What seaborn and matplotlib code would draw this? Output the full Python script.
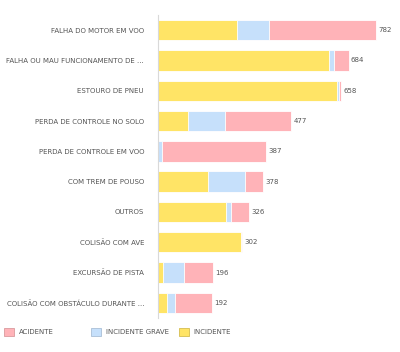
import matplotlib
matplotlib.use("Agg")
import matplotlib.pyplot as plt
from matplotlib.patches import Patch
import seaborn as sns
import pandas as pd

categories = [
    "FALHA DO MOTOR EM VOO",
    "FALHA OU MAU FUNCIONAMENTO DE ...",
    "ESTOURO DE PNEU",
    "PERDA DE CONTROLE NO SOLO",
    "PERDA DE CONTROLE EM VOO",
    "COM TREM DE POUSO",
    "OUTROS",
    "COLISÃO COM AVE",
    "EXCURSÃO DE PISTA",
    "COLISÃO COM OBSTÁCULO DURANTE ...",
]
incidente = [282, 612, 641, 107, 0, 180, 245, 296, 17, 33]
incidente_grave = [115, 21, 8, 132, 13, 132, 17, 1, 75, 28]
acidente = [385, 51, 9, 238, 374, 66, 64, 5, 104, 131]
totals = [782, 684, 658, 477, 387, 378, 326, 302, 196, 192]
series_names = ["ACIDENTE", "INCIDENTE GRAVE", "INCIDENTE"]

col_acidente = "#ffb3b8"
col_grave = "#c6e0fb"
col_incidente = "#ffe466"
text_col = "#555555"

df = pd.DataFrame({
    "cat": categories,
    "inc": incidente,
    "inc_grave": [a + b for a, b in zip(incidente, incidente_grave)],
    "total": [a + b + c for a, b, c in zip(incidente, incidente_grave, acidente)],
})

sns.set_style("white")
plt.rcParams["font.family"] = ["DejaVu Sans"]

fig = plt.figure(figsize=(4.0, 3.52), dpi=100)
ax = fig.add_axes([0.395, 1 - 318 / 352, 0.5925, 303 / 352])

# stacked bars: draw cumulative sums from the longest down
for col, color in [("total", col_acidente), ("inc_grave", col_grave), ("inc", col_incidente)]:
    sns.barplot(data=df, x=col, y="cat", order=categories, color=color,
                orient="h", width=0.67, edgecolor="white", linewidth=0.6,
                saturation=1, ax=ax)

for i, t in enumerate(totals):
    ax.text(t + 8, i, str(t), va="center", ha="left", fontsize=5, color=text_col)

ax.set_xlim(0, 850)
ax.set_ylim(9.5, -0.5)
ax.set_xlabel("")
ax.set_ylabel("")
ax.set_xticks([])
ax.tick_params(axis="y", length=0, pad=10, labelsize=5, labelcolor=text_col)
for s in ["top", "right", "bottom"]:
    ax.spines[s].set_visible(False)
ax.spines["left"].set_color("#d9d9d9")
ax.spines["left"].set_linewidth(0.8)

# legend: three fixed-width slots along the bottom
handles = [
    Patch(facecolor=col_acidente, edgecolor="#d99a9e", linewidth=0.6),
    Patch(facecolor=col_grave, edgecolor="#a9bfd6", linewidth=0.6),
    Patch(facecolor=col_incidente, edgecolor="#d4bd50", linewidth=0.6),
]
for h, name, x0 in zip(handles, series_names, [4, 91, 179]):
    leg = fig.legend([h], [name], loc="center left",
                     bbox_to_anchor=(x0 / 400, 1 - 332 / 352),
                     frameon=False, fontsize=5, handlelength=1.5,
                     handleheight=1.5, handletextpad=0.6,
                     borderpad=0, borderaxespad=0)
    for t in leg.get_texts():
        t.set_color(text_col)

fig.savefig("out.png", dpi=100)
